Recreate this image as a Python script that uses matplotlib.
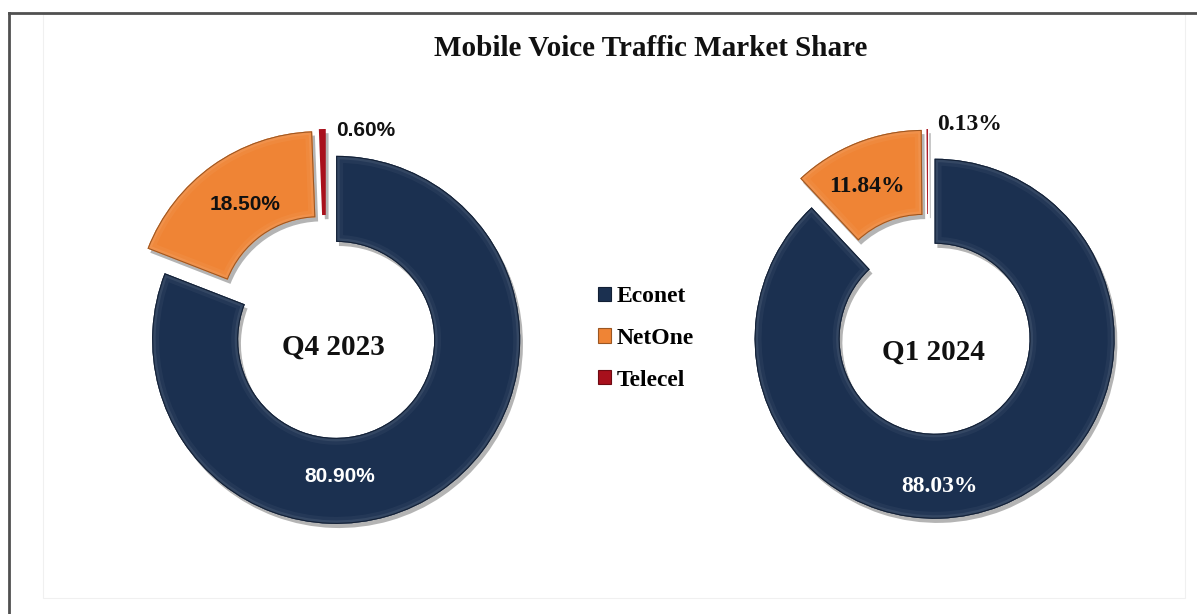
import matplotlib
matplotlib.use("Agg")
import matplotlib.pyplot as plt
from matplotlib.patches import Wedge, Patch, Rectangle
from matplotlib.lines import Line2D
import matplotlib.patheffects as pe
import matplotlib.colors as mcolors
import numpy as np

# ---- data ----
title = "Mobile Voice Traffic Market Share"
operators = ["Econet", "NetOne", "Telecel"]
periods = ["Q4 2023", "Q1 2024"]
q4_2023 = [80.90, 18.50, 0.60]
q1_2024 = [88.03, 11.84, 0.13]
colors = ["#1b3050", "#ef8435", "#a8101c"]

W, H = 1197, 614
fig = plt.figure(figsize=(W / 100, H / 100), dpi=100)
ax = fig.add_axes([0, 0, 1, 1])

def py(y):
    return H - y

def lighten(c, f):
    r, g, b = mcolors.to_rgb(c)
    return (r + (1 - r) * f, g + (1 - g) * f, b + (1 - b) * f)

def darken(c, f):
    r, g, b = mcolors.to_rgb(c)
    return (r * (1 - f), g * (1 - f), b * (1 - f))

panels = [
    dict(values=q4_2023, center=(326, 325), r=184, width=86,
         explode=[18, 12, 12]),
    dict(values=q1_2024, center=(928, 322), r=180, width=85,
         explode=[18, 13, 13]),
]

for p in panels:
    cx, cy = p["center"]
    wedges, _ = ax.pie(p["values"], colors=colors, startangle=90,
                       counterclock=False, radius=p["r"],
                       center=(cx, py(cy)), explode=p["explode"],
                       wedgeprops=dict(width=p["width"], linewidth=0))
    for w, c, v in zip(wedges, colors, p["values"]):
        w.set_path_effects([pe.SimplePatchShadow(offset=(2, -3), shadow_rgbFace="#444444", alpha=0.4),
                            pe.Normal()])
        if v < 2:
            continue
        # bevel highlight rim
        for lw, f, a in [(10, 0.12, 0.35), (5, 0.22, 0.4)]:
            rim = Wedge(w.center, w.r, w.theta1, w.theta2, width=w.width,
                        facecolor="none", edgecolor=lighten(c, f), linewidth=lw, alpha=a)
            ax.add_patch(rim)
            rim.set_clip_path(w)
        edge = Wedge(w.center, w.r, w.theta1, w.theta2, width=w.width,
                     facecolor="none", edgecolor=darken(c, 0.35), linewidth=1.5)
        ax.add_patch(edge)
        edge.set_clip_path(w)

ax.set_xlim(0, W)
ax.set_ylim(0, H)
ax.set_aspect("equal")
ax.axis("off")

serif = "Liberation Serif"
sans = "Liberation Sans"

# title
ax.text(651, py(49), title, ha="center", va="center", fontsize=21,
        fontweight="bold", family=serif, color="#111111")

def pct(v):
    return f"{v:.2f}%"

# left panel labels (sans)
ax.text(245, py(205), pct(q4_2023[1]), ha="center", va="center", fontsize=15,
        fontweight="bold", family=sans, color="#111111")
ax.text(366, py(130), pct(q4_2023[2]), ha="center", va="center", fontsize=15,
        fontweight="bold", family=sans, color="#111111")
ax.text(340, py(477), pct(q4_2023[0]), ha="center", va="center", fontsize=15,
        fontweight="bold", family=sans, color="white")
ax.text(333, py(347), periods[0], ha="center", va="center", fontsize=21,
        fontweight="bold", family=serif, color="#111111")

# right panel labels (serif)
ax.text(867, py(186), pct(q1_2024[1]), ha="center", va="center", fontsize=17,
        fontweight="bold", family=serif, color="#111111")
ax.text(970, py(124), pct(q1_2024[2]), ha="center", va="center", fontsize=17,
        fontweight="bold", family=serif, color="#111111")
ax.text(940, py(487), pct(q1_2024[0]), ha="center", va="center", fontsize=17,
        fontweight="bold", family=serif, color="white")
ax.text(933, py(352), periods[1], ha="center", va="center", fontsize=21,
        fontweight="bold", family=serif, color="#111111")

# legend
handles = [Patch(facecolor=c, edgecolor=darken(c, 0.35), linewidth=0.8) for c in colors]
leg = fig.legend(handles, operators, loc="upper left",
                 bbox_to_anchor=(598 / W, 1 - 286 / H), frameon=False,
                 prop=dict(family=serif, weight="bold", size=17),
                 handlelength=0.55, handleheight=0.55, handletextpad=0.25,
                 labelspacing=0.88, borderpad=0, borderaxespad=0)

# frame
fig.add_artist(Line2D([9 / W, 9 / W], [0, 1 - 13 / H], color="#505050", lw=2,
                      transform=fig.transFigure))
fig.add_artist(Line2D([9 / W, 1], [1 - 13 / H, 1 - 13 / H], color="#505050", lw=2,
                      transform=fig.transFigure))
fig.add_artist(Rectangle((43 / W, 1 - 598 / H), (1185 - 43) / W, (598 - 14) / H,
                         transform=fig.transFigure, fill=False, edgecolor="#f0f0f0", lw=0.8))

fig.savefig("out.png", dpi=100)
